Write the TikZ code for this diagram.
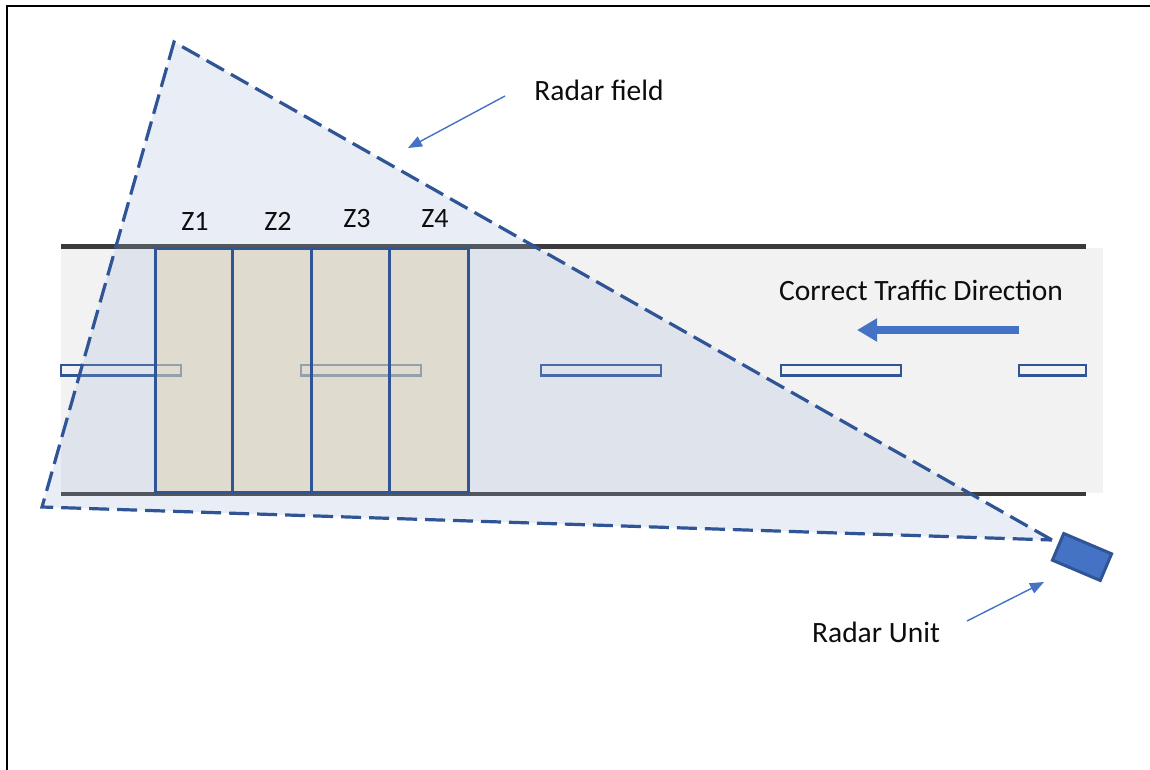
\documentclass[tikz,border=0pt]{standalone}
\usepackage{fontspec}
\setmainfont{Carlito}
\usetikzlibrary{arrows.meta}
\definecolor{edgeblue}{HTML}{2F5597}
\definecolor{accentblue}{HTML}{4472C4}
\definecolor{fieldblue}{HTML}{9FB5DC}
\definecolor{roadgray}{HTML}{F2F2F2}
\definecolor{curbgray}{HTML}{3A3A3A}
\definecolor{zonetan}{HTML}{E1D7B4}
\definecolor{inktext}{HTML}{0D0D0D}
\tikzset{
  frameline/.style={line width=2pt, black},
  curb/.style={line width=4.5pt, curbgray},
  lanemark/.style={line width=2.6pt, edgeblue},
  fieldfill/.style={fill=fieldblue, fill opacity=0.23},
  fieldedge/.style={line width=3.2pt, edgeblue, dash pattern=on 20pt off 8pt, line join=miter},
  zonefill/.style={fill=zonetan, fill opacity=0.5},
  zoneedge/.style={line width=3pt, edgeblue},
  zonelabel/.style={font=\fontsize{28}{33}\selectfont, text=inktext, inner sep=0pt},
  caption/.style={font=\fontsize{29.5}{35}\selectfont, text=inktext, inner sep=0pt},
  pointer/.style={line width=1.4pt, accentblue, -{Triangle[length=14pt,width=11pt]}},
  flowarrow/.style={line width=8pt, accentblue, -{Triangle[length=20pt,width=22pt]}},
  unitbox/.style={draw=edgeblue, line width=3pt, fill=accentblue, rotate=-23,
    minimum width=52pt, minimum height=29pt, inner sep=0pt},
}
\begin{document}
\begin{tikzpicture}[x=1pt, y=-1pt]
  \useasboundingbox (0,0) rectangle (1150,770);
  \fill[white] (0,0) rectangle (1150,770);

  % outer frame (left and top edges)
  \draw[frameline] (7,770) -- (7,6) -- (1150,6);

  % road surface and curbs
  \fill[roadgray] (61,248) rectangle (1103,493);
  \draw[curb] (61,246.5) -- (1086,246.5);
  \draw[curb] (61,494) -- (1086,494);

  % centre lane markings
  \foreach \xa/\xb in {61/181, 301/421, 541/661, 781/901, 1019/1086}
    \draw[lanemark] (\xa,365) rectangle (\xb,375.5);

  % radar field coverage
  \coordinate (apex) at (174,42);
  \coordinate (farleft) at (42,507);
  \coordinate (origin) at (1052,540);
  \fill[fieldfill] (apex) -- (farleft) -- (origin) -- cycle;

  % detection zones
  \foreach \xa/\xb in {155/232, 232/311, 311/389, 389/468}
    \fill[zonefill] (\xa,248) rectangle (\xb,492);
  \foreach \xa/\xb in {155/232, 232/311, 311/389, 389/468}
    \draw[zoneedge] (\xa,248) rectangle (\xb,492);

  \node[zonelabel] (z1) at (195,221) {Z1};
  \node[zonelabel] (z2) at (278,221) {Z2};
  \node[zonelabel] (z3) at (357,219) {Z3};
  \node[zonelabel] (z4) at (435,219) {Z4};

  % radar field outline
  \draw[fieldedge] (origin) -- (apex) -- (farleft) -- (origin);

  % radar unit
  \node[unitbox] (unit) at (1082,557) {};

  % labels and pointers
  \node[caption] (fieldlabel) at (599,90) {Radar field};
  \coordinate (fieldtail) at (505,96);
  \coordinate (fieldtip) at (408,148);
  \draw[pointer] (fieldtail) -- (fieldtip);

  \node[caption] (unitlabel) at (876,632) {Radar Unit};
  \coordinate (unittail) at (967,621);
  \coordinate (unittip) at (1044,582);
  \draw[pointer] (unittail) -- (unittip);

  \node[caption] (flowlabel) at (921,290) {Correct Traffic Direction};
  \coordinate (flowtail) at (1019,330);
  \coordinate (flowtip) at (857,330);
  \draw[flowarrow] (flowtail) -- (flowtip);
\end{tikzpicture}
\end{document}
